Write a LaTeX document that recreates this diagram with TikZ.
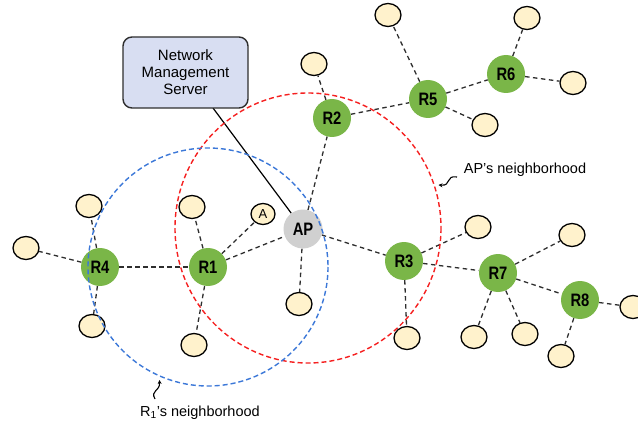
\documentclass[tikz,border=0pt]{standalone}
\usepackage{fontspec}
\setmainfont{Liberation Sans}
\newfontfamily\routerfont[FakeStretch=0.82]{Liberation Sans}
\usetikzlibrary{backgrounds,arrows.meta,shapes.geometric}
\definecolor{routergreen}{HTML}{7AB648}
\definecolor{clientfill}{HTML}{FFF2CC}
\definecolor{apgray}{HTML}{D0D0D0}
\definecolor{serverfill}{HTML}{D8DEF2}
\definecolor{edgegray}{HTML}{2E2E2E}
\definecolor{nbrred}{HTML}{F52020}
\definecolor{nbrblue}{HTML}{3C78D8}
\tikzset{
  router/.style={circle, fill=routergreen, minimum size=38pt, inner sep=0pt,
    font=\routerfont\bfseries\fontsize{18}{18}\selectfont},
  accesspoint/.style={circle, fill=apgray, minimum size=39pt, inner sep=0pt,
    font=\routerfont\bfseries\fontsize{18}{18}\selectfont},
  client/.style={ellipse, draw=black, line width=1.3pt, fill=clientfill,
    minimum width=26pt, minimum height=23pt, inner sep=0pt},
  smallclient/.style={client, minimum width=24pt, minimum height=21pt,
    font=\fontsize{13}{13}\selectfont},
  link/.style={draw=edgegray, line width=1.3pt, dash pattern=on 4.5pt off 3.5pt},
  nbrcircle/.style={line width=1.4pt, dash pattern=on 5pt off 3pt},
  server/.style={draw=edgegray, line width=1.4pt, rounded corners=9pt,
    fill=serverfill, minimum width=125pt, minimum height=71pt, align=center,
    font=\fontsize{15}{17}\selectfont},
  nbrlabel/.style={anchor=base, inner sep=0pt, font=\fontsize{14.5}{17}\selectfont},
  pointer/.style={line width=1.1pt, -{Stealth[length=4pt,width=4pt]}}
}
\begin{document}
\begin{tikzpicture}[x=1pt,y=-1pt]
\useasboundingbox (0,0) rectangle (638,428);

% management server
\node[server] (nms) at (185.5,72.5) {Network\\Management\\Server};

% routers and access point
\node[accesspoint] (ap) at (303,229) {AP};
\node[router] (r1) at (208,267) {R1};
\node[router] (r2) at (332,118) {R2};
\node[router] (r3) at (404,261) {R3};
\node[router] (r4) at (100,267) {R4};
\node[router] (r5) at (428,99) {R5};
\node[router] (r6) at (506,74) {R6};
\node[router] (r7) at (498,273) {R7};
\node[router] (r8) at (580,300) {R8};

% clients
\node[client] (c1) at (388,15) {};
\node[client] (c2) at (314,64) {};
\node[client] (c3) at (527,18) {};
\node[client] (c4) at (573,83) {};
\node[client] (c5) at (485,125) {};
\node[client] (c6) at (478,227) {};
\node[client] (c7) at (572,235) {};
\node[client] (c8) at (474,337) {};
\node[client] (c9) at (525,334) {};
\node[client] (c10) at (561,356) {};
\node[client] (c11) at (633,307) {};
\node[client] (c12) at (407,338) {};
\node[client] (c13) at (299,304) {};
\node[client] (c14) at (194,345) {};
\node[client] (c15) at (192,207) {};
\node[smallclient] (ca) at (263,214) {A};
\node[client] (c16) at (89,206) {};
\node[client] (c17) at (26,248) {};
\node[client] (c18) at (92,326) {};

% links behind the nodes
\begin{scope}[on background layer]
  \draw[line width=1.2pt, black] (213,108) -- (ap);
  \draw[link] (r4) -- (r1);
  \draw[link] (r4) -- (c16);
  \draw[link] (r4) -- (c17);
  \draw[link] (r4) -- (c18);
  \draw[link] (r1) -- (ap);
  \draw[link] (r1) -- (ca);
  \draw[link] (r1) -- (c15);
  \draw[link] (r1) -- (c14);
  \draw[link] (ap) -- (r2);
  \draw[link] (ap) -- (r3);
  \draw[link] (ap) -- (c13);
  \draw[link] (r2) -- (r5);
  \draw[link] (r2) -- (c2);
  \draw[link] (r5) -- (c1);
  \draw[link] (r5) -- (r6);
  \draw[link] (r5) -- (c5);
  \draw[link] (r6) -- (c3);
  \draw[link] (r6) -- (c4);
  \draw[link] (r3) -- (r7);
  \draw[link] (r3) -- (c6);
  \draw[link] (r3) -- (c12);
  \draw[link] (r7) -- (c7);
  \draw[link] (r7) -- (c8);
  \draw[link] (r7) -- (c9);
  \draw[link] (r7) -- (r8);
  \draw[link] (r8) -- (c10);
  \draw[link] (r8) -- (c11);
\end{scope}

% neighbourhoods
\draw[nbrcircle, nbrred] (308,228) ellipse [x radius=133, y radius=135];
\draw[nbrcircle, nbrblue] (208,267) ellipse [x radius=120, y radius=119];

% labels with pointers
\node[nbrlabel] (aplabel) at (525,173) {AP’s neighborhood};
\node[nbrlabel] (r1label) at (200,416) {R\textsubscript{1}’s neighborhood};
\coordinate (aptail) at (457,177);
\coordinate (aptip) at (438.5,185);
\coordinate (r1tail) at (155,399);
\coordinate (r1tip) at (159.5,380);
\draw[pointer] (aptail) .. controls (445,175) and (452,186) .. (aptip);
\draw[pointer] (r1tail) .. controls (150,390) and (160,392) .. (r1tip);
\end{tikzpicture}
\end{document}
